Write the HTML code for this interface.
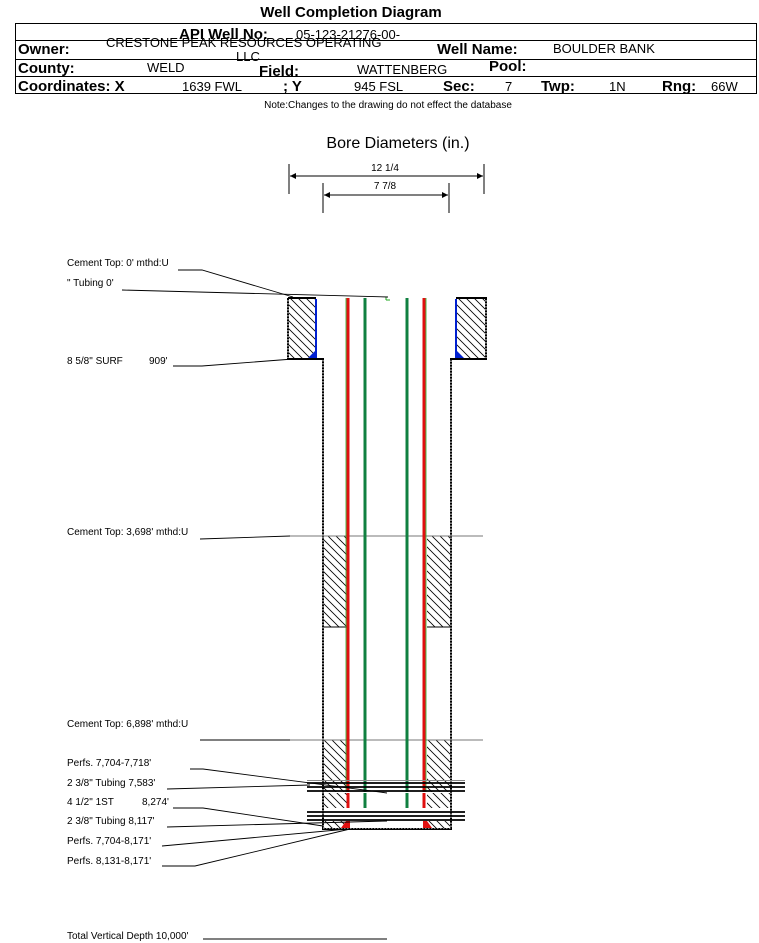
<!DOCTYPE html>
<html><head><meta charset="utf-8"><style>
body{margin:0;background:#fff;}
svg{display:block;font-family:"Liberation Sans",Arial,sans-serif;}
</style></head><body>
<svg width="759" height="943" viewBox="0 0 759 943" xmlns="http://www.w3.org/2000/svg">
<defs>
<pattern id="h" width="8" height="8" patternUnits="userSpaceOnUse">
<path d="M-2,-2 L10,10 M-2,6 L2,10 M6,-2 L10,2" stroke="#000" stroke-width="0.8"/>
</pattern>
<marker id="a" viewBox="0 0 10 10" refX="10" refY="5" markerWidth="8" markerHeight="6" orient="auto-start-reverse"><path d="M0,0 L10,5 L0,10z" fill="#000"/></marker>
</defs>
<text x="351" y="17" font-size="15" font-weight="bold" text-anchor="middle">Well Completion Diagram</text>
<rect x="15.5" y="23.5" width="741" height="70" fill="none" stroke="#000"/>
<line x1="15" y1="40.5" x2="757" y2="40.5" stroke="#000"/>
<line x1="15" y1="59.5" x2="757" y2="59.5" stroke="#000"/>
<line x1="15" y1="76.5" x2="757" y2="76.5" stroke="#000"/>
<g font-size="15" font-weight="bold">
<text x="179" y="39">API Well No:</text>
<text x="18" y="54">Owner:</text>
<text x="437" y="54">Well Name:</text>
<text x="18" y="73">County:</text>
<text x="259" y="76">Field:</text>
<text x="489" y="71">Pool:</text>
<text x="18" y="91">Coordinates: X</text>
<text x="283" y="91">; Y</text>
<text x="443" y="91">Sec:</text>
<text x="541" y="91">Twp:</text>
<text x="662" y="91">Rng:</text>
</g>
<g font-size="13">
<text x="296" y="39">05-123-21276-00-</text>
<text x="106" y="47">CRESTONE PEAK RESOURCES OPERATING</text>
<text x="236" y="61">LLC</text>
<text x="553" y="53">BOULDER BANK</text>
<text x="147" y="72">WELD</text>
<text x="357" y="74">WATTENBERG</text>
<text x="182" y="91">1639 FWL</text>
<text x="354" y="91">945 FSL</text>
<text x="505" y="91">7</text>
<text x="609" y="91">1N</text>
<text x="711" y="91">66W</text>
</g>
<text x="388" y="108" font-size="10" text-anchor="middle">Note:Changes to the drawing do not effect the database</text>
<text x="398" y="148" font-size="16" text-anchor="middle">Bore Diameters (in.)</text>
<text x="385" y="171" font-size="10" text-anchor="middle">12 1/4</text>
<text x="385" y="189" font-size="10" text-anchor="middle">7 7/8</text>
<g stroke="#000">
<line x1="289" y1="164" x2="289" y2="194"/><line x1="484" y1="164" x2="484" y2="194"/>
<line x1="290" y1="176" x2="483" y2="176" marker-start="url(#a)" marker-end="url(#a)"/>
<line x1="323" y1="183" x2="323" y2="213"/><line x1="449" y1="183" x2="449" y2="213"/>
<line x1="324" y1="195" x2="448" y2="195" marker-start="url(#a)" marker-end="url(#a)"/>
</g>
<rect x="288" y="298" width="28" height="60" fill="url(#h)"/>
<rect x="456" y="298" width="29" height="60" fill="url(#h)"/>
<g fill="none" stroke="#000" stroke-width="2">
<path d="M288,298 L316,298 M288,298 L288,359 L323,359 L323,829 L451,829 L451,359 L486,359 L486,298 L456,298"/>
</g>
<g fill="none" stroke="#fff" stroke-width="1" stroke-dasharray="1.5,1.5">
<path d="M288,300 L288,358 M323,360 L323,828 L451,828 L451,360 M486,300 L486,358"/>
</g>
<line x1="316" y1="299" x2="316" y2="358" stroke="#0020d0" stroke-width="2"/>
<line x1="456" y1="299" x2="456" y2="358" stroke="#0020d0" stroke-width="2"/>
<path d="M316,350 L316,358 L308,358z" fill="#0020d0"/>
<path d="M456,350 L456,358 L464,358z" fill="#0020d0"/>
<rect x="324" y="536" width="23" height="91" fill="url(#h)"/>
<rect x="427" y="536" width="23" height="91" fill="url(#h)"/>
<line x1="324" y1="627" x2="347" y2="627" stroke="#000"/><line x1="427" y1="627" x2="450" y2="627" stroke="#000"/>
<rect x="324" y="740" width="23" height="88" fill="url(#h)"/>
<rect x="427" y="740" width="23" height="88" fill="url(#h)"/>
<line x1="290" y1="536" x2="483" y2="536" stroke="#777"/>
<line x1="290" y1="740" x2="483" y2="740" stroke="#777"/>
<g stroke-width="3">
<line x1="348" y1="298" x2="348" y2="808" stroke="#e01010"/>
<line x1="424" y1="298" x2="424" y2="808" stroke="#e01010"/>
<line x1="365" y1="298" x2="365" y2="808" stroke="#108040"/>
<line x1="407" y1="298" x2="407" y2="808" stroke="#108040"/>
</g>
<g stroke="#2a2" stroke-width="0.8"><line x1="346" y1="298" x2="346" y2="808"/><line x1="426" y1="298" x2="426" y2="808"/></g>
<rect x="324" y="792" width="126" height="19" fill="#fff"/>
<rect x="324" y="808" width="126" height="20" fill="#fff"/>
<rect x="324" y="821" width="24" height="7" fill="url(#h)"/>
<rect x="426" y="821" width="24" height="7" fill="url(#h)"/>
<line x1="307" y1="780.5" x2="465" y2="780.5" stroke="#888"/>
<g stroke="#000" stroke-width="1.8">
<line x1="307" y1="783" x2="465" y2="783"/><line x1="307" y1="787" x2="465" y2="787"/><line x1="307" y1="791" x2="465" y2="791"/>
<line x1="307" y1="812" x2="465" y2="812"/><line x1="307" y1="816" x2="465" y2="816"/><line x1="307" y1="820" x2="465" y2="820"/>
</g>
<rect x="324" y="793" width="23" height="15" fill="url(#h)"/><rect x="427" y="793" width="23" height="15" fill="url(#h)"/>
<line x1="348" y1="793" x2="348" y2="808" stroke="#e01010" stroke-width="3"/><line x1="424" y1="793" x2="424" y2="808" stroke="#e01010" stroke-width="3"/>
<line x1="365" y1="793" x2="365" y2="808" stroke="#108040" stroke-width="3"/><line x1="407" y1="793" x2="407" y2="808" stroke="#108040" stroke-width="3"/>
<path d="M341,828 L346,821 L350,821 L350,828z" fill="#e01010"/>
<path d="M423,828 L423,821 L427,821 L432,828z" fill="#e01010"/>
<path d="M386,297 L386,300 M386,300 L390,300" stroke="#2a2"/>
<g font-size="10">
<text x="67" y="266">Cement Top: 0' mthd:U</text>
<text x="67" y="286">" Tubing 0'</text>
<text x="67" y="364">8 5/8" SURF</text><text x="149" y="364">909'</text>
<text x="67" y="535">Cement Top: 3,698' mthd:U</text>
<text x="67" y="727">Cement Top: 6,898' mthd:U</text>
<text x="67" y="766">Perfs. 7,704-7,718'</text>
<text x="67" y="786">2 3/8" Tubing 7,583'</text>
<text x="67" y="805">4 1/2" 1ST</text><text x="142" y="805">8,274'</text>
<text x="67" y="824">2 3/8" Tubing 8,117'</text>
<text x="67" y="844">Perfs. 7,704-8,171'</text>
<text x="67" y="864">Perfs. 8,131-8,171'</text>
<text x="67" y="939">Total Vertical Depth 10,000'</text>
</g>
<g stroke="#000" fill="none" stroke-width="0.9">
<path d="M178,270 L202,270 L293,297"/>
<path d="M122,290 L388,297"/>
<path d="M173,366 L202,366 L293,359"/>
<path d="M200,539 L290,536"/>
<path d="M200,740 L290,740"/>
<path d="M190,769 L203,769 L387,793"/>
<path d="M167,789 L310,785"/>
<path d="M173,808 L203,808 L323,826"/>
<path d="M167,827 L387,821"/>
<path d="M162,846 L348,829"/>
<path d="M162,866 L195,866 L350,829"/>
<path d="M203,939 L387,939"/>
</g>
</svg>
</body></html>
